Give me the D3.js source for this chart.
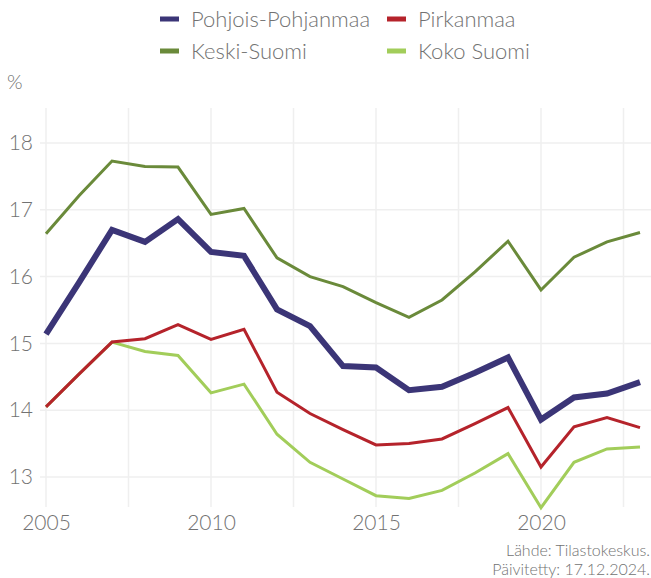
<!DOCTYPE html>
<html lang="fi">
<head>
    <meta charset="UTF-8">
    <title>Pohjois-Pohjanmaa, Pirkanmaa, Keski-Suomi, Koko Suomi</title>
    <script src="https://d3js.org/d3.v7.min.js"></script>
    <style>
        html, body {
            margin: 0;
            padding: 0;
            background-color: #ffffff;
            font-family: 'Lato', sans-serif;
        }
        text { fill: #727272; font-weight: 300; }
    </style>
</head>
<body>
    <div id="chart"></div>
    <script>
        // DATA
        const years = [2005, 2006, 2007, 2008, 2009, 2010, 2011, 2012, 2013, 2014,
                       2015, 2016, 2017, 2018, 2019, 2020, 2021, 2022, 2023];
        const pohjoisPohjanmaa = [15.14, 15.91, 16.70, 16.52, 16.86, 16.37, 16.31, 15.51, 15.26, 14.66,
                                  14.64, 14.30, 14.35, 14.56, 14.79, 13.86, 14.19, 14.25, 14.42];
        const pirkanmaa = [14.05, 14.54, 15.02, 15.07, 15.28, 15.06, 15.21, 14.27, 13.95, 13.71,
                           13.48, 13.50, 13.57, 13.80, 14.04, 13.15, 13.75, 13.89, 13.74];
        const keskiSuomi = [16.64, 17.21, 17.73, 17.65, 17.64, 16.93, 17.02, 16.28, 16.00, 15.85,
                            15.61, 15.39, 15.65, 16.07, 16.53, 15.80, 16.29, 16.52, 16.66];
        const kokoSuomi = [14.05, 14.54, 15.02, 14.88, 14.82, 14.26, 14.39, 13.64, 13.22, 12.97,
                           12.72, 12.68, 12.80, 13.06, 13.35, 12.54, 13.22, 13.42, 13.45];
        const seriesNames = ["Pohjois-Pohjanmaa", "Pirkanmaa", "Keski-Suomi", "Koko Suomi"];
        const seriesColors = ["#3b3577", "#b5232b", "#6a8a3a", "#a2cd5a"];
        const seriesWidths = [6, 3, 3, 3];
        const yTicks = [13, 14, 15, 16, 17, 18];
        const xTicks = [2005, 2010, 2015, 2020];
        const xMinor = [2007.5, 2012.5, 2017.5, 2022.5];

        const W = 651, H = 578;
        const panel = {left: 40, right: 651, top: 108, bottom: 507};

        const svg = d3.select("#chart")
            .append("svg")
            .attr("width", W)
            .attr("height", H);

        // SCALES
        const x = d3.scaleLinear().domain([2005, 2023]).range([46, 640]);
        const y = d3.scaleLinear().domain([13, 18]).range([477, 143]);

        // GRID
        const grid = svg.append("g").attr("stroke", "#efefef").attr("stroke-width", 1.5);
        grid.selectAll(".vgrid")
            .data(xTicks.concat(xMinor)).enter()
            .append("line")
            .attr("x1", d => x(d)).attr("x2", d => x(d))
            .attr("y1", panel.top).attr("y2", panel.bottom);
        grid.selectAll(".hgrid")
            .data(yTicks).enter()
            .append("line")
            .attr("x1", panel.left).attr("x2", panel.right)
            .attr("y1", d => y(d)).attr("y2", d => y(d));

        // AXES (labels only)
        const yAxis = svg.append("g")
            .attr("transform", `translate(${panel.left},0)`)
            .call(d3.axisLeft(y).tickValues(yTicks).tickFormat(d3.format("d")).tickSize(0).tickPadding(7));
        const xAxis = svg.append("g")
            .attr("transform", `translate(0,${panel.bottom})`)
            .call(d3.axisBottom(x).tickValues(xTicks).tickFormat(d3.format("d")).tickSize(0).tickPadding(8));
        [yAxis, xAxis].forEach(a => {
            a.select(".domain").remove();
            a.selectAll("text")
                .style("font-family", "Lato, sans-serif")
                .style("font-size", "21px")
                .attr("fill", "#727272");
        });

        svg.append("text")
            .attr("x", 7)
            .attr("y", 89)
            .style("font-size", "20px")
            .text("%");

        // LINES
        const allSeries = [pohjoisPohjanmaa, pirkanmaa, keskiSuomi, kokoSuomi];
        const line = d3.line()
            .x((d, i) => x(years[i]))
            .y(d => y(d));
        const drawOrder = [3, 1, 2, 0];
        svg.selectAll(".series")
            .data(drawOrder).enter()
            .append("path")
            .attr("d", k => line(allSeries[k]))
            .attr("fill", "none")
            .attr("stroke", k => seriesColors[k])
            .attr("stroke-width", k => seriesWidths[k])
            .attr("stroke-linejoin", "miter");

        // LEGEND
        const legendPos = [[160, 19], [387, 19], [160, 51], [387, 51]];
        const legend = svg.append("g");
        seriesNames.forEach((name, i) => {
            const [lx, ly] = legendPos[i];
            legend.append("rect")
                .attr("x", lx).attr("y", ly - 2.5)
                .attr("width", 19).attr("height", 5)
                .attr("fill", seriesColors[i]);
            legend.append("text")
                .attr("x", lx + 31).attr("y", ly + 7.5)
                .style("font-size", "22px")
                .text(name);
        });

        // CAPTION
        svg.append("text")
            .attr("x", 650).attr("y", 556)
            .attr("text-anchor", "end")
            .style("font-size", "16px")
            .text("Lähde: Tilastokeskus.");
        svg.append("text")
            .attr("x", 650).attr("y", 575)
            .attr("text-anchor", "end")
            .style("font-size", "16px")
            .text("Päivitetty: 17.12.2024.");
    </script>
</body>
</html>
